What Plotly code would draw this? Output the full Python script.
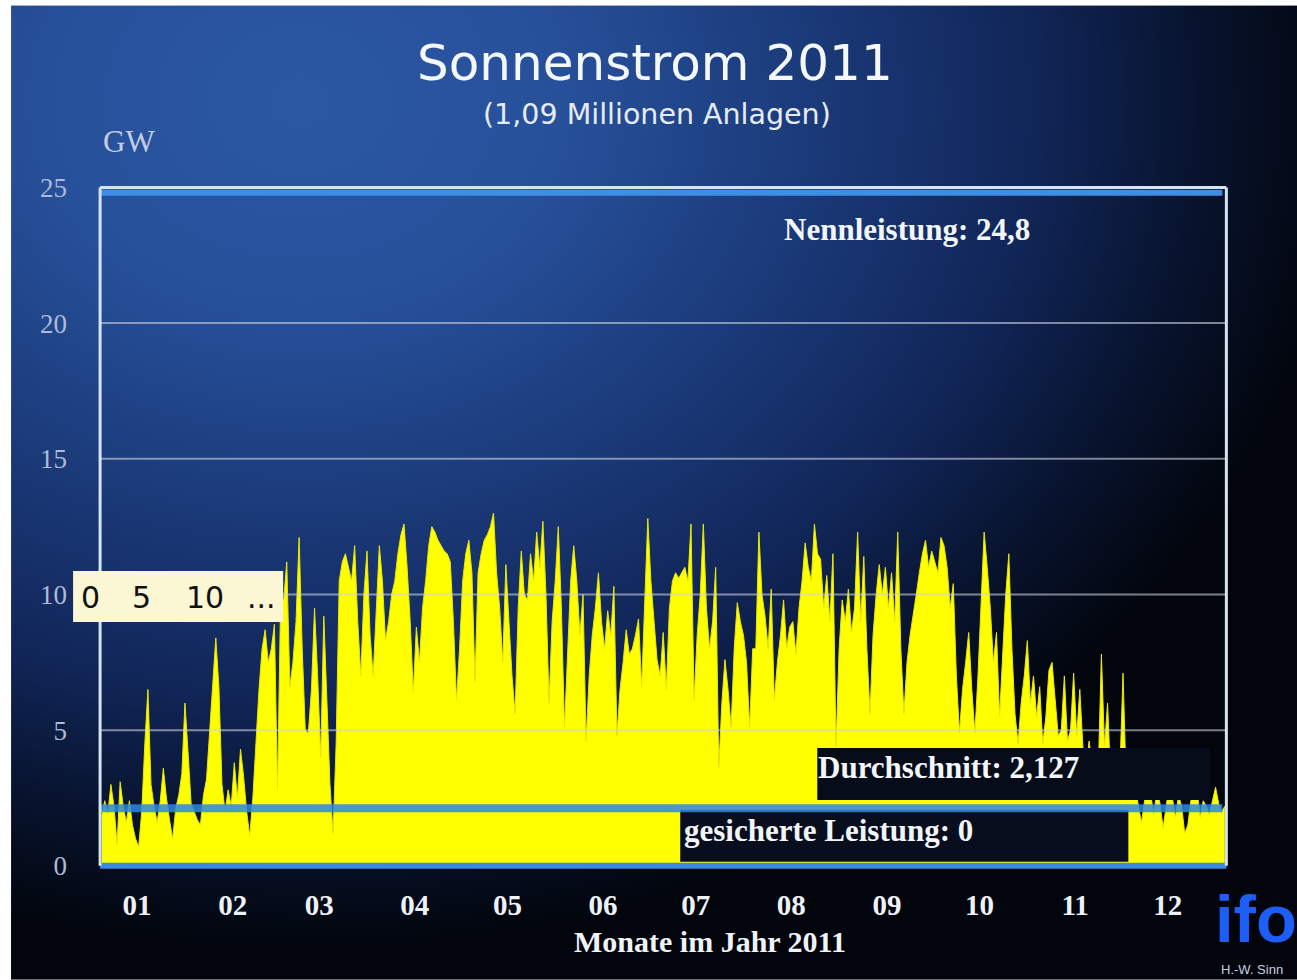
import base64
import numpy as np
import plotly.graph_objects as go

# Daily peak PV feed-in in Germany 2011 (GW), one list per month
jan = [1.8, 2.4, 1.9, 3.0, 2.2, 0.8, 3.1, 2.2, 1.6, 2.4, 1.5, 1.0, 0.7, 2.0, 4.5, 6.5,
       3.0, 2.2, 1.6, 2.4, 3.6, 2.5, 1.7, 1.0, 2.1, 2.6, 3.4, 6.0, 4.2, 2.3, 2.0]
feb = [1.7, 1.5, 2.6, 3.2, 5.0, 6.5, 8.4, 6.6, 3.0, 2.0, 2.8, 2.2, 3.8, 2.5, 4.3, 3.3,
       2.0, 1.1, 2.5, 4.5, 6.5, 8.0, 8.7, 7.5, 8.0, 8.9, 2.8, 9.8]
mar = [9.8, 11.2, 6.6, 7.5, 9.0, 12.1, 8.0, 5.0, 4.9, 6.5, 9.5, 7.0, 4.0, 9.2, 6.0, 3.0,
       1.2, 4.5, 10.5, 11.2, 11.5, 11.0, 10.5, 11.8, 9.0, 7.0, 10.0, 11.6, 8.5, 7.0, 9.5]
apr = [11.8, 10.5, 8.3, 9.0, 10.0, 10.5, 11.5, 12.2, 12.6, 11.0, 9.0, 6.4, 8.8, 7.5, 9.5,
       10.5, 11.8, 12.5, 12.3, 12.0, 11.8, 11.6, 11.5, 11.2, 9.0, 6.1, 8.0, 10.5, 11.5, 12.0]
may = [10.8, 6.8, 10.8, 11.5, 12.0, 12.2, 12.5, 13.0, 10.8, 9.5, 7.5, 11.1, 9.0, 7.0, 5.6,
       9.5, 11.6, 10.0, 9.8, 11.5, 10.5, 12.3, 11.0, 12.7, 10.0, 6.0, 9.0, 10.5, 12.5, 9.5, 5.1]
jun = [8.0, 10.5, 11.8, 10.5, 8.5, 10.0, 4.6, 7.0, 8.5, 9.5, 10.8, 9.0, 8.0, 9.4, 8.5,
       10.3, 4.8, 6.5, 7.5, 8.7, 7.8, 8.0, 8.5, 9.1, 6.6, 10.0, 12.8, 10.5, 9.0, 7.6]
jul = [7.0, 8.6, 6.5, 9.5, 10.5, 10.8, 10.6, 10.8, 11.0, 10.5, 12.6, 6.1, 8.5, 10.0, 12.6,
       9.5, 8.0, 9.0, 11.0, 3.6, 6.0, 7.6, 6.5, 5.1, 8.0, 9.7, 9.0, 8.5, 7.5, 5.1, 8.0]
aug = [8.0, 12.3, 10.0, 9.2, 8.0, 10.2, 6.1, 7.5, 8.5, 9.8, 8.0, 8.8, 9.0, 7.8, 9.5, 10.5,
       11.9, 11.0, 10.5, 12.6, 11.5, 11.3, 9.5, 10.7, 9.0, 11.5, 4.4, 8.0, 9.8, 9.0, 10.2]
sep = [8.6, 9.5, 12.3, 9.0, 11.4, 8.0, 5.6, 8.5, 10.0, 11.1, 10.0, 11.0, 9.5, 10.8, 9.0,
       12.3, 8.0, 5.6, 7.5, 8.5, 9.2, 10.0, 10.8, 11.5, 12.0, 11.0, 11.6, 11.2, 10.8, 12.1]
oct = [11.8, 11.0, 9.5, 10.4, 7.0, 4.9, 6.5, 7.5, 8.6, 6.5, 4.9, 7.0, 9.5, 12.3, 11.0, 9.5,
       7.5, 8.6, 5.5, 8.0, 10.0, 11.5, 8.0, 5.6, 4.5, 6.0, 7.0, 8.3, 6.0, 7.0, 5.5]
nov = [6.6, 4.5, 5.5, 7.2, 7.5, 6.1, 4.8, 5.0, 7.0, 4.6, 5.0, 7.1, 4.8, 6.5, 4.4, 3.5,
       4.6, 3.8, 4.2, 3.5, 7.8, 4.4, 6.0, 3.2, 3.0, 4.0, 3.5, 7.1, 3.2, 2.6]
dec = [2.5, 3.0, 2.2, 1.6, 2.4, 3.2, 2.6, 1.9, 2.8, 2.3, 1.4, 2.2, 3.0, 2.5, 1.8, 2.6,
       2.2, 1.2, 1.5, 2.4, 3.5, 2.8, 1.8, 2.4, 2.2, 1.9, 2.4, 2.9, 2.3, 2.0, 2.2]

month_labels = ["01", "02", "03", "04", "05", "06", "07", "08", "09", "10", "11", "12"]
y_ticks = [0, 5, 10, 15, 20, 25]

nennleistung = 24.8      # installed capacity, GW
durchschnitt = 2.127     # yearly mean output, GW
gesichert = 0.0          # guaranteed output, GW

months = [jan, feb, mar, apr, may, jun, jul, aug, sep, oct, nov, dec]
power = np.concatenate([np.asarray(m, float) for m in months])
days = np.arange(len(power)) + 0.5
month_start = np.cumsum([0] + [len(m) for m in months[:-1]])

# ---- page geometry -------------------------------------------------------
W, H = 1297, 980
PX_DAY = 1126 / 365          # pixels per day
PX_GW = 679 / 25             # pixels per GW
X0_PX, Y0_PX = 100, 866      # pixel position of day 0 / 0 GW
X_RANGE = (-1.0, 366.5)
Y_RANGE = (-0.3, 25.2)

m_l = X0_PX + X_RANGE[0] * PX_DAY
m_r = W - (X0_PX + X_RANGE[1] * PX_DAY)
m_b = H - (Y0_PX - Y_RANGE[0] * PX_GW)
m_t = Y0_PX - Y_RANGE[1] * PX_GW
pw, ph = W - m_l - m_r, H - m_t - m_b


def px(x):
    return (x - m_l) / pw


def py(y):
    return 1 - (y - m_t) / ph


def day_at(xpx):
    return (xpx - X0_PX) / PX_DAY


def gw_at(ypx):
    return (Y0_PX - ypx) / PX_GW


# ---- background: blue glow from the upper left fading to black ------------
svg = f"""<svg xmlns="http://www.w3.org/2000/svg" width="{W}" height="{H}" viewBox="0 0 {W} {H}">
<defs>
<radialGradient id="g" gradientUnits="userSpaceOnUse" cx="0" cy="0" r="1"
 gradientTransform="translate(300 100) scale(1050 850)">
<stop offset="0" stop-color="#2b57a3"/>
<stop offset="0.25" stop-color="#27509a"/>
<stop offset="0.4" stop-color="#1f4285"/>
<stop offset="0.55" stop-color="#183470"/>
<stop offset="0.7" stop-color="#112658"/>
<stop offset="0.85" stop-color="#081430"/>
<stop offset="1" stop-color="#02050c"/>
</radialGradient>
</defs>
<rect width="{W}" height="{H}" fill="#ffffff"/>
<rect x="11" y="5" width="{W - 11}" height="{H - 5}" fill="url(#g)"/>
</svg>"""
bg_src = "data:image/svg+xml;base64," + base64.b64encode(svg.encode()).decode()

fig = go.Figure()
fig.add_trace(go.Scatter(
    x=days, y=power, mode="lines", fill="tozeroy",
    line=dict(color="#e8e800", width=1), fillcolor="#ffff00",
    hoverinfo="skip", showlegend=False,
))

SERIF = "Liberation Serif, Times New Roman, serif"
SANS = "DejaVu Sans, Verdana, sans-serif"
LOGO = "Liberation Sans, Arial, sans-serif"

shapes = []
# horizontal grid
for v in y_ticks[1:-1]:
    shapes.append(dict(type="line", xref="x", yref="y", x0=0, x1=365, y0=v, y1=v,
                       line=dict(color="rgba(205,210,222,0.6)", width=2), layer="above"))
# dark label panels
shapes.append(dict(type="rect", xref="x", yref="y", x0=day_at(817), x1=day_at(1210),
                   y0=gw_at(800), y1=gw_at(748), fillcolor="#070c1a", line=dict(width=0),
                   layer="above"))
shapes.append(dict(type="rect", xref="x", yref="y", x0=day_at(680), x1=day_at(1128),
                   y0=gw_at(862), y1=gw_at(810), fillcolor="#080e1e", line=dict(width=0),
                   layer="above"))
# reference levels
line_end = day_at(1222)
shapes.append(dict(type="line", xref="x", yref="y", x0=0, x1=line_end,
                   y0=nennleistung, y1=nennleistung,
                   line=dict(color="#3c8fe4", width=6), layer="above"))
shapes.append(dict(type="line", xref="x", yref="y", x0=0, x1=line_end,
                   y0=durchschnitt, y1=durchschnitt,
                   line=dict(color="rgba(45,135,225,0.85)", width=8), layer="above"))
shapes.append(dict(type="line", xref="x", yref="y", x0=0, x1=365,
                   y0=gesichert, y1=gesichert,
                   line=dict(color="#3b8ae0", width=6), layer="above"))
# frame
frame = dict(color="#d6e4f2", width=3)
shapes.append(dict(type="line", xref="x", yref="y", x0=0, x1=0, y0=0, y1=25, line=frame, layer="above"))
shapes.append(dict(type="line", xref="x", yref="y", x0=0, x1=365, y0=25, y1=25, line=frame, layer="above"))
shapes.append(dict(type="line", xref="x", yref="y", x0=365, x1=365, y0=0, y1=25, line=frame, layer="above"))
# scale hint box
shapes.append(dict(type="rect", xref="paper", yref="paper", x0=px(73), x1=px(283),
                   y0=py(622), y1=py(571), fillcolor="#fbf6d3", line=dict(width=0),
                   layer="above"))

ann = []
ann.append(dict(text="Sonnenstrom 2011", xref="paper", yref="paper", x=px(655), y=py(62),
                font=dict(family=SANS, size=50, color="#f4f7fc")))
ann.append(dict(text="(1,09 Millionen Anlagen)", xref="paper", yref="paper", x=px(657), y=py(114),
                font=dict(family=SANS, size=28.5, color="#e6ecf6")))
ann.append(dict(text="GW", xref="paper", yref="paper", x=px(129), y=py(141),
                font=dict(family=SERIF, size=31, color="#c2cde4")))
ann.append(dict(text="<b>Monate im Jahr 2011</b>", xref="paper", yref="paper", x=px(710), y=py(942),
                font=dict(family=SERIF, size=30, color="#f0f3f8")))
ann.append(dict(text="<b>Nennleistung: 24,8</b>", xref="x", yref="y", x=day_at(782), y=gw_at(229),
                xanchor="left", font=dict(family=SERIF, size=31, color="#f2f5fa")))
ann.append(dict(text="<b>Durchschnitt: 2,127</b>", xref="x", yref="y", x=day_at(816), y=gw_at(768),
                xanchor="left", font=dict(family=SERIF, size=31, color="#f2f5fa")))
ann.append(dict(text="<b>gesicherte Leistung: 0</b>", xref="x", yref="y", x=day_at(682), y=gw_at(831),
                xanchor="left", font=dict(family=SERIF, size=31, color="#f2f5fa")))
for txt, cx in [("0", 90), ("5", 141), ("10", 205), ("...", 261)]:
    ann.append(dict(text=txt, xref="paper", yref="paper", x=px(cx), y=py(597),
                    font=dict(family=SANS, size=30, color="#111111")))
# institute logo
ann.append(dict(text="<b>ifo</b>", xref="paper", yref="paper", x=px(1213), y=py(919),
                xanchor="left", font=dict(family=LOGO, size=67, color="#1d5ef7")))
ann.append(dict(text="H.-W. Sinn", xref="paper", yref="paper", x=px(1219), y=py(970),
                xanchor="left", font=dict(family=LOGO, size=13, color="#c8d0e0")))
for a in ann:
    a.setdefault("xanchor", "center")
    a.setdefault("yanchor", "middle")
    a["showarrow"] = False

fig.update_layout(
    width=W, height=H,
    margin=dict(l=m_l, r=m_r, t=m_t, b=m_b, pad=0),
    paper_bgcolor="#ffffff",
    plot_bgcolor="rgba(0,0,0,0)",
    showlegend=False,
    hovermode=False,
    shapes=shapes,
    annotations=ann,
    images=[dict(source=bg_src, xref="paper", yref="paper", x=px(0), y=py(0),
                 sizex=W / pw, sizey=H / ph, xanchor="left", yanchor="top",
                 sizing="stretch", layer="below")],
    xaxis=dict(range=list(X_RANGE), showgrid=False, zeroline=False, showline=False,
               tickmode="array", tickvals=list(month_start + 12),
               ticktext=[f"<b>{m}</b>" for m in month_labels],
               ticks="", ticklabelstandoff=11,
               tickfont=dict(family=SERIF, size=29, color="#eef2f8")),
    yaxis=dict(range=list(Y_RANGE), showgrid=False, zeroline=False, showline=False,
               tickmode="array", tickvals=y_ticks, ticktext=[str(v) for v in y_ticks],
               ticks="", ticklabelstandoff=29,
               tickfont=dict(family=SERIF, size=27, color="#aebbd6")),
)

fig.write_html("out.html")
